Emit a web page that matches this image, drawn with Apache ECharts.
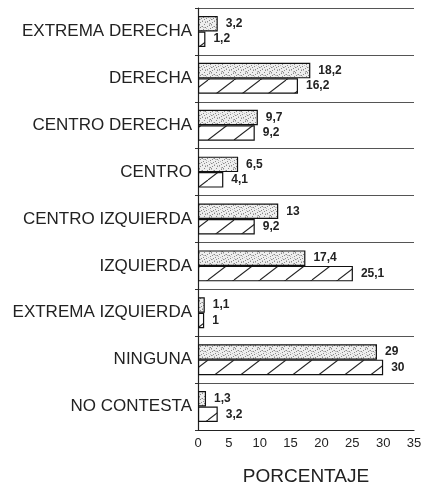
<!DOCTYPE html>
<html><head><meta charset="utf-8">
<script src="https://cdn.jsdelivr.net/npm/echarts@6/dist/echarts.min.js"></script>
<style>html,body{margin:0;padding:0;background:#fff}#c{width:433px;height:485px}</style>
</head><body><div id="c"></div>
<script>
var categories = ['EXTREMA DERECHA','DERECHA','CENTRO DERECHA','CENTRO','CENTRO IZQUIERDA','IZQUIERDA','EXTREMA IZQUIERDA','NINGUNA','NO CONTESTA'];
var seriesA = [3.2, 18.2, 9.7, 6.5, 13, 17.4, 1.1, 29, 1.3];
var seriesB = [1.2, 16.2, 9.2, 4.1, 9.2, 25.1, 1, 30, 3.2];
var xTicks = [0,5,10,15,20,25,30,35];

function stipple(){
  var c=document.createElement('canvas');c.width=12;c.height=12;
  var g=c.getContext('2d');g.fillStyle='#eeeeee';g.fillRect(0,0,12,12);
  g.fillStyle='#8a8a8a';
  for(var y=0;y<12;y++)for(var x=0;x<12;x++){ if((x*5+y*3)%7===0) g.fillRect(x,y,1,1); }
  g.fillStyle='#bdbdbd';
  for(var y2=0;y2<12;y2++)for(var x2=0;x2<12;x2++){ if((x2*3+y2*5)%11===4) g.fillRect(x2,y2,1,1); }
  return c;
}
function hatch(){
  var w=26,h=20,c=document.createElement('canvas');c.width=w;c.height=h;
  var g=c.getContext('2d');g.fillStyle='#ffffff';g.fillRect(0,0,w,h);
  g.strokeStyle='#222';g.lineWidth=1.1;
  for(var k=-1;k<=1;k++){g.beginPath();g.moveTo(k*w,h);g.lineTo(k*w+w,0);g.stroke();}
  return c;
}
function fmt(p){return String(p.value).replace('.',',');}

var chart = echarts.init(document.getElementById('c'));
chart.setOption({
  animation:false,
  backgroundColor:'#fff',
  grid:{left:198,right:19,top:8,bottom:55,containLabel:false,outerBoundsMode:'none'},
  xAxis:{type:'value',min:0,max:35,interval:5,
    name:'PORCENTAJE',nameLocation:'middle',nameGap:37,
    nameTextStyle:{fontFamily:'Liberation Sans',fontSize:19,color:'#222'},
    axisLine:{show:true,lineStyle:{color:'#222',width:1.2}},
    axisTick:{show:false},splitLine:{show:false},
    axisLabel:{fontFamily:'Liberation Sans',fontSize:13,color:'#222',margin:7,
      formatter:function(v){return xTicks.indexOf(v)>=0?String(v):'';}}
  },
  yAxis:{type:'category',data:categories,inverse:true,
    axisLine:{show:true,lineStyle:{color:'#222',width:1.2}},
    axisTick:{show:true,length:3,lineStyle:{color:'#333'}},
    splitLine:{show:true,interval:0,lineStyle:{color:'#555',width:1}},
    axisLabel:{fontFamily:'Liberation Sans',fontSize:17,color:'#222',margin:6}
  },
  series:[
    {type:'bar',data:seriesA,barGap:'0%',barCategoryGap:'34%',
     itemStyle:{color:{image:stipple(),repeat:'repeat'},borderColor:'#111',borderWidth:1.2},
     label:{show:true,position:'right',distance:8,formatter:fmt,fontFamily:'Liberation Sans',fontWeight:'bold',fontSize:12,color:'#222'}},
    {type:'bar',data:seriesB,
     itemStyle:{color:{image:hatch(),repeat:'repeat'},borderColor:'#111',borderWidth:1.2},
     label:{show:true,position:'right',distance:8,formatter:fmt,fontFamily:'Liberation Sans',fontWeight:'bold',fontSize:12,color:'#222'}}
  ]
});
</script></body></html>
